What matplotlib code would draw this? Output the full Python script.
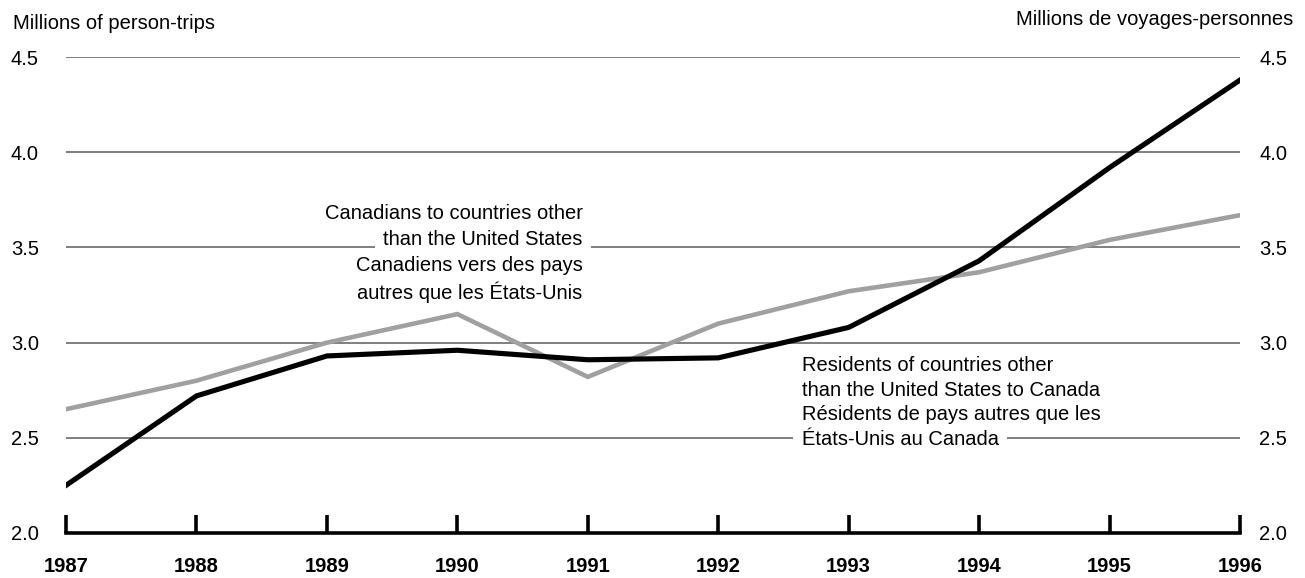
import matplotlib.pyplot as plt

plt.rcParams['font.family'] = ['Liberation Sans', 'DejaVu Sans']

# Data (millions of person-trips)
years = [1987, 1988, 1989, 1990, 1991, 1992, 1993, 1994, 1995, 1996]
residents_to_canada = [2.25, 2.72, 2.93, 2.96, 2.91, 2.92, 3.08, 3.43, 3.92, 4.38]
canadians_abroad = [2.65, 2.80, 3.00, 3.15, 2.82, 3.10, 3.27, 3.37, 3.54, 3.67]
yticks = [2.0, 2.5, 3.0, 3.5, 4.0, 4.5]
ytick_labels = ['2.0', '2.5', '3.0', '3.5', '4.0', '4.5']

canadians_label = ['Canadians to countries other', 'than the United States',
                   'Canadiens vers des pays', 'autres que les États-Unis']
residents_label = ['Residents of countries other', 'than the United States to Canada',
                   'Résidents de pays autres que les', 'États-Unis au Canada']

fig = plt.figure(figsize=(13.05, 5.78), dpi=100)
ax = fig.add_axes([0.0506, 0.078, 0.8996, 0.823])

ax.set_xlim(1987, 1996)
ax.set_ylim(2.0, 4.5)

# gridlines
for y in yticks[1:]:
    ax.axhline(y, color='#7f7f7f', lw=1.4, zorder=1)

ax.plot(years, canadians_abroad, color='#a0a0a0', lw=3.3, zorder=2,
        solid_joinstyle='miter')
ax.plot(years, residents_to_canada, color='black', lw=3.7, zorder=2.5,
        solid_joinstyle='miter')

# spines / ticks
for s in ['top', 'left', 'right']:
    ax.spines[s].set_visible(False)
ax.spines['bottom'].set_linewidth(2.6)
ax.spines['bottom'].set_zorder(4)
ax.set_xticks(years)
ax.set_xticklabels([str(y) for y in years], fontweight='bold', fontsize=14.5)
ax.tick_params(axis='x', direction='in', length=13, width=2.6, pad=17)

ax.set_yticks(yticks)
ax.set_yticklabels(ytick_labels, fontsize=14.5)
ax.tick_params(axis='y', length=0, pad=19.5)

ax2 = ax.twinx()
ax2.set_ylim(2.0, 4.5)
ax2.set_yticks(yticks)
ax2.set_yticklabels(ytick_labels, fontsize=14.5)
ax2.tick_params(axis='y', length=0, pad=14)
for s in ['top', 'left', 'right', 'bottom']:
    ax2.spines[s].set_visible(False)


def label_block(x, y0, step, lines, ha):
    # white boxes first (break the gridlines), then the text on top
    box = dict(facecolor='white', edgecolor='none', pad=6)
    for i, line in enumerate(lines):
        y = y0 - i * step
        ax.text(x, y, line, ha=ha, va='center', fontsize=14.5,
                color='none', bbox=box, zorder=2.9)
        ax.text(x, y, line, ha=ha, va='center', fontsize=14.5, zorder=3)


label_block(1990.96, 3.681, 0.138, canadians_label, 'right')
label_block(1992.64, 2.882, 0.131, residents_label, 'left')

fig.text(0.010, 0.960, 'Millions of person-trips', fontsize=14.5, ha='left', va='center')
fig.text(0.991, 0.966, 'Millions de voyages-personnes', fontsize=14.5, ha='right', va='center')

fig.savefig('out.png', dpi=100)
